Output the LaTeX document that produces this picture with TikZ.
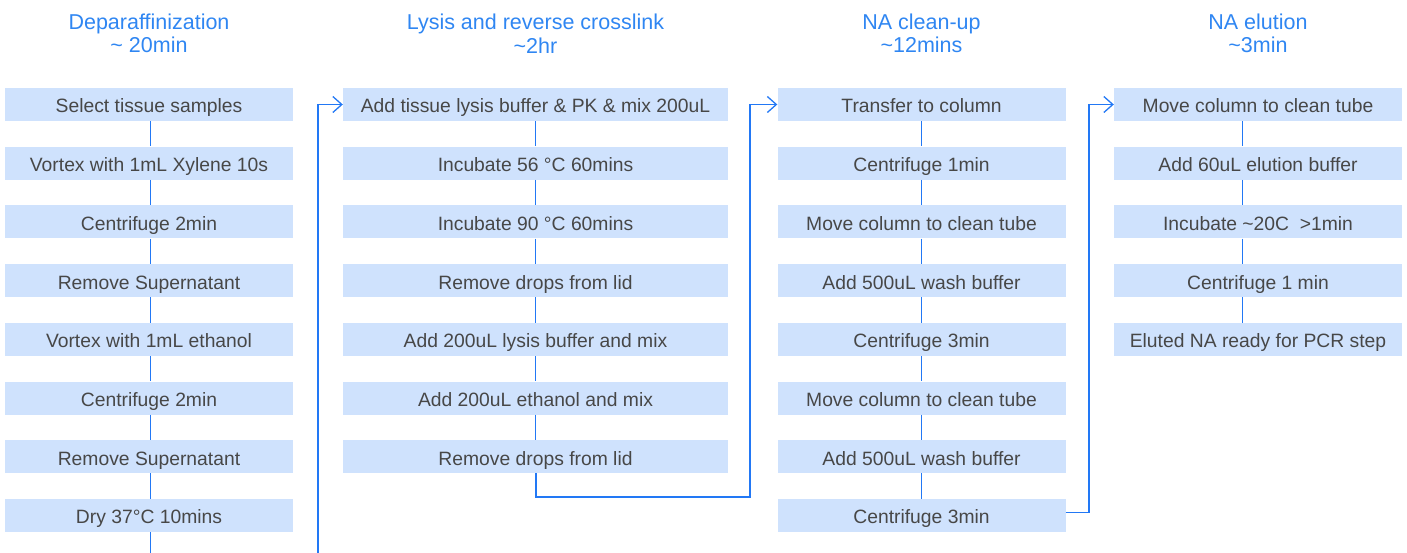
\documentclass[tikz,border=0pt]{standalone}
\usepackage{fontspec}
\setmainfont{Liberation Sans}
\usetikzlibrary{arrows.meta}
\definecolor{boxfill}{HTML}{CFE2FD}
\definecolor{steptext}{HTML}{474747}
\definecolor{headblue}{HTML}{2F86F2}
\definecolor{lineblue}{HTML}{2278F5}
\begin{document}
\begin{tikzpicture}[x=1pt,y=-1pt,
  stepbox/.style={fill=boxfill, minimum height=33pt, inner sep=0pt,
    text height=17pt, text depth=0pt,
    text=steptext, font=\fontsize{19.3}{22}\selectfont},
  narrowbox/.style={stepbox, minimum width=288pt},
  widebox/.style={stepbox, minimum width=385pt},
  header/.style={align=center, text=headblue, font=\fontsize{21.5}{23.5}\selectfont},
  conn/.style={draw=lineblue, line width=1.5pt},
  link/.style={draw=lineblue, line width=1.6pt},
  linkarrow/.style={link, -{Straight Barb[length=9pt,width=16pt,line width=1.3pt]}}]
\useasboundingbox (0,0) rectangle (1407,553);

% column headers
\node[header] (h1) at (149,33.5) {Deparaffinization\\\textasciitilde{} 20min};
\node[header] (h2) at (535.5,33.5) {Lysis and reverse crosslink\\\textasciitilde2hr};
\node[header] (h3) at (921.5,33.5) {NA clean-up\\\textasciitilde12mins};
\node[header] (h4) at (1258,33.5) {NA elution\\\textasciitilde3min};

% column 1: deparaffinization
\node[narrowbox] (c1r1) at (149,104.5) {Select tissue samples};
\node[narrowbox] (c1r2) at (149,163.2) {Vortex with 1mL Xylene 10s};
\node[narrowbox] (c1r3) at (149,221.9) {Centrifuge 2min};
\node[narrowbox] (c1r4) at (149,280.6) {Remove Supernatant};
\node[narrowbox] (c1r5) at (149,339.3) {Vortex with 1mL ethanol};
\node[narrowbox] (c1r6) at (149,398.0) {Centrifuge 2min};
\node[narrowbox] (c1r7) at (149,456.7) {Remove Supernatant};
\node[narrowbox] (c1r8) at (149,515.4) {Dry 37°C 10mins};

% column 2: lysis
\node[widebox] (c2r1) at (535.5,104.5) {Add tissue lysis buffer \& PK \& mix 200uL};
\node[widebox] (c2r2) at (535.5,163.2) {Incubate 56 °C 60mins};
\node[widebox] (c2r3) at (535.5,221.9) {Incubate 90 °C 60mins};
\node[widebox] (c2r4) at (535.5,280.6) {Remove drops from lid};
\node[widebox] (c2r5) at (535.5,339.3) {Add 200uL lysis buffer and mix};
\node[widebox] (c2r6) at (535.5,398.0) {Add 200uL ethanol and mix};
\node[widebox] (c2r7) at (535.5,456.7) {Remove drops from lid};

% column 3: clean-up
\node[narrowbox] (c3r1) at (921.5,104.5) {Transfer to column};
\node[narrowbox] (c3r2) at (921.5,163.2) {Centrifuge 1min};
\node[narrowbox] (c3r3) at (921.5,221.9) {Move column to clean tube};
\node[narrowbox] (c3r4) at (921.5,280.6) {Add 500uL wash buffer};
\node[narrowbox] (c3r5) at (921.5,339.3) {Centrifuge 3min};
\node[narrowbox] (c3r6) at (921.5,398.0) {Move column to clean tube};
\node[narrowbox] (c3r7) at (921.5,456.7) {Add 500uL wash buffer};
\node[narrowbox] (c3r8) at (921.5,515.4) {Centrifuge 3min};

% column 4: elution
\node[narrowbox] (c4r1) at (1258,104.5) {Move column to clean tube};
\node[narrowbox] (c4r2) at (1258,163.2) {Add 60uL elution buffer};
\node[narrowbox] (c4r3) at (1258,221.9) {Incubate \textasciitilde20C\ \ >1min};
\node[narrowbox] (c4r4) at (1258,280.6) {Centrifuge 1 min};
\node[narrowbox] (c4r5) at (1258,339.3) {Eluted NA ready for PCR step};

% vertical spines that carry the links inside each column
\coordinate (spine1) at (150.3,0);
\coordinate (spine2) at (535.7,0);
\coordinate (spine3) at (921.3,0);
\coordinate (spine4) at (1242.7,0);

% links inside each column
\foreach \i/\j in {1/2,2/3,3/4,4/5,5/6,6/7,7/8} {
  \draw[conn] (c1r\i.south -| spine1) -- (c1r\j.north -| spine1);
  \draw[conn] (c3r\i.south -| spine3) -- (c3r\j.north -| spine3);
}
\foreach \i/\j in {1/2,2/3,3/4,4/5,5/6,6/7}
  \draw[conn] (c2r\i.south -| spine2) -- (c2r\j.north -| spine2);
\foreach \i/\j in {1/2,2/3,3/4,4/5}
  \draw[conn] (c4r\i.south -| spine4) -- (c4r\j.north -| spine4);

% links between columns
\coordinate (loopA) at (150.3,575);
\coordinate (loopB) at (318,575);
\draw[conn] (c1r8.south -| spine1) -- (loopA);
\draw[linkarrow] (loopA) -- (loopB) |- (c2r1.west);
\coordinate (bendB) at (750,497);
\draw[linkarrow] (c2r7.south -| spine2) |- (bendB) |- (c3r1.west);
\coordinate (bendC) at (1089,104.5);
\draw[linkarrow] ([yshift=3pt]c3r8.east) -| (bendC) -- (c4r1.west);
\end{tikzpicture}
\end{document}
